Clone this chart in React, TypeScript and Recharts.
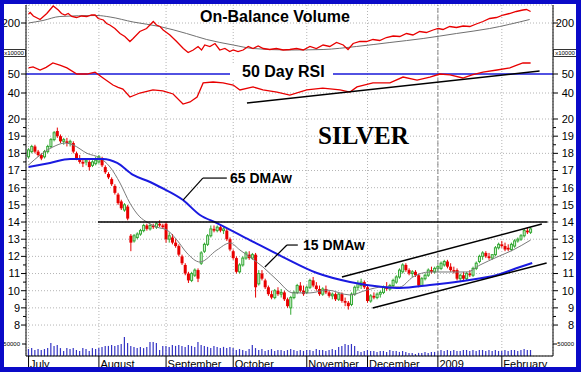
import React from 'react';
import { ComposedChart, XAxis, YAxis, Bar, Line, CartesianGrid, ReferenceLine } from 'recharts';

const FONT = "'Liberation Sans', Arial, sans-serif";
const SERIF = "'Liberation Serif', 'Times New Roman', serif";

// ---------- categories / ticks ----------
const monthTicks = [0, 22, 43, 64, 87, 106, 128, 148];
const monthLabels = ['July', 'August', 'September', 'October', 'November', 'December', '2009', 'February'];
const priceTicks = [8, 9, 10, 11, 12, 13, 14, 15, 16, 17, 18, 19, 20];
const priceMinorTicks = [8.5, 9.5, 10.5, 11.5, 12.5, 13.5, 14.5, 15.5, 16.5, 17.5, 18.5, 19.5];
const rsiTicks = [40, 50];
const obvTicks = [200];
const volTicks = [50000];

// ---------- daily prices (July 2008 - Feb 2009) ----------
const opens = [
  17.8, 18.1, 18.4, 18.1, 17.9, 17.8, 18.1, 18.4, 18.8, 19.3, 19.0, 18.7, 18.7, 18.6, 18.6, 18.0, 17.7, 17.5, 17.5, 17.5, 17.3, 17.4,
  17.5, 17.7, 17.2, 16.8, 16.5, 16.1, 15.6, 15.2, 14.7, 14.9, 13.2, 12.9, 13.1, 13.3, 13.5, 13.8, 13.6, 13.8, 13.7, 13.9, 13.8,
  13.9, 13.0, 13.1, 12.8, 12.6, 12.0, 11.5, 11.0, 10.6, 10.9, 11.2, 11.6, 12.3, 12.7, 13.2, 13.6, 13.5, 13.7, 13.5, 13.5, 13.0,
  12.3, 11.9, 11.1, 11.5, 11.9, 12.1, 11.9, 12.1, 10.4, 11.0, 10.6, 10.2, 9.8, 9.6, 10.0, 9.8, 9.9, 9.5, 9.0, 9.6, 9.9, 10.3, 10.0,
  9.9, 10.2, 10.6, 10.3, 10.1, 9.8, 10.1, 9.9, 9.7, 9.8, 9.5, 9.8, 9.4, 9.3, 9.2, 9.8, 10.2, 10.3, 10.5,
  10.2, 9.4, 9.7, 9.6, 9.8, 9.9, 10.2, 10.1, 10.3, 10.5, 10.8, 11.1, 11.5, 11.2, 11.0, 11.1, 10.9, 10.3, 10.7, 10.9, 11.2, 11.1,
  11.3, 11.3, 11.5, 11.7, 11.4, 11.2, 11.2, 10.7, 10.9, 10.7, 11.0, 10.9, 11.3, 11.7, 12.0, 12.2, 12.0, 11.9, 12.1, 12.5,
  12.7, 12.6, 12.5, 12.4, 12.6, 12.9, 13.0, 13.2, 13.5, 13.4,
];
const highs = [
  18.3, 18.5, 18.5, 18.2, 18.0, 18.2, 18.5, 18.9, 19.3, 19.5, 19.1, 18.9, 18.9, 18.8, 18.7, 18.1, 17.9, 17.7, 17.7, 17.6, 17.6, 17.8,
  17.9, 17.8, 17.3, 16.9, 16.6, 16.2, 15.7, 15.3, 15.1, 15.0, 13.3, 13.3, 13.4, 13.6, 13.9, 13.9, 13.9, 13.9, 14.0, 14.1, 13.9,
  14.0, 13.4, 13.3, 13.0, 12.7, 12.1, 11.6, 11.1, 11.1, 11.3, 11.3, 12.3, 12.8, 13.3, 13.8, 13.8, 13.8, 13.8, 13.7, 13.6, 13.1,
  12.4, 12.0, 11.6, 12.0, 12.3, 12.3, 12.2, 12.2, 11.2, 11.2, 10.7, 10.3, 10.0, 10.1, 10.2, 10.1, 10.0, 9.6, 9.7, 10.0, 10.4, 10.5, 10.3,
  10.3, 10.7, 10.8, 10.5, 10.3, 10.2, 10.3, 10.0, 9.9, 9.9, 9.9, 9.9, 9.6, 9.4, 9.9, 10.3, 10.6, 10.7, 10.6,
  10.3, 9.8, 9.9, 9.9, 10.0, 10.3, 10.5, 10.4, 10.7, 10.9, 11.3, 11.6, 11.6, 11.3, 11.2, 11.2, 11.0, 10.8, 11.0, 11.3, 11.4, 11.4,
  11.5, 11.7, 11.8, 11.8, 11.6, 11.4, 11.3, 11.0, 11.1, 11.1, 11.2, 11.4, 11.7, 12.1, 12.3, 12.3, 12.2, 12.1, 12.6, 12.8,
  12.9, 12.8, 12.7, 12.8, 13.0, 13.1, 13.3, 13.6, 13.7, 13.7,
];
const lows = [
  17.7, 18.0, 18.0, 17.8, 17.6, 17.7, 18.0, 18.3, 18.7, 18.9, 18.6, 18.5, 18.4, 18.4, 18.0, 17.6, 17.4, 17.2, 17.3, 17.0, 17.2, 17.3,
  17.4, 17.2, 16.8, 16.5, 16.1, 15.6, 15.0, 14.7, 14.6, 14.1, 12.3, 12.8, 13.0, 13.2, 13.4, 13.5, 13.5, 13.6, 13.6, 13.7, 13.6,
  12.8, 12.8, 12.7, 12.5, 12.0, 11.5, 10.9, 10.45, 10.5, 10.8, 10.5, 11.5, 12.2, 12.6, 13.1, 13.4, 13.4, 13.4, 13.3, 12.9, 12.3,
  11.8, 11.0, 11.0, 11.4, 11.8, 11.8, 11.8, 9.6, 10.3, 10.6, 10.1, 9.7, 9.5, 9.5, 9.7, 9.6, 9.4, 9.0, 8.6, 9.5, 9.8, 9.9, 9.7,
  9.8, 10.1, 10.2, 10.0, 9.7, 9.7, 9.8, 9.6, 9.5, 9.4, 9.4, 9.3, 9.1, 8.9, 9.1, 9.7, 10.0, 10.1, 10.1,
  9.3, 9.3, 9.5, 9.5, 9.6, 9.8, 10.0, 10.0, 10.2, 10.4, 10.7, 11.0, 11.1, 10.9, 10.8, 10.8, 10.2, 10.3, 10.6, 10.8, 11.0, 11.0,
  11.1, 11.2, 11.4, 11.3, 11.1, 11.0, 10.6, 10.5, 10.6, 10.6, 10.8, 10.8, 11.2, 11.6, 11.8, 11.9, 11.8, 11.8, 12.0, 12.4,
  12.5, 12.3, 12.3, 12.3, 12.5, 12.8, 12.9, 13.1, 13.3, 13.3,
];
const closes = [
  18.2, 18.4, 18.1, 17.9, 17.7, 18.1, 18.4, 18.8, 19.2, 19.0, 18.7, 18.8, 18.6, 18.7, 18.1, 17.7, 17.5, 17.4, 17.6, 17.2, 17.5, 17.6,
  17.8, 17.3, 16.9, 16.6, 16.2, 15.7, 15.1, 14.8, 15.0, 14.2, 12.8, 13.2, 13.3, 13.5, 13.8, 13.6, 13.8, 13.7, 13.9, 13.8, 13.7,
  13.0, 13.2, 12.8, 12.6, 12.1, 11.6, 11.0, 10.6, 11.0, 11.2, 10.7, 12.2, 12.7, 13.2, 13.6, 13.5, 13.7, 13.5, 13.6, 13.0, 12.4,
  11.9, 11.1, 11.5, 11.9, 12.2, 11.9, 12.1, 10.2, 11.0, 10.7, 10.2, 9.8, 9.6, 10.0, 9.8, 9.9, 9.5, 9.1, 9.6, 9.9, 10.3, 10.0, 9.8,
  10.2, 10.6, 10.3, 10.1, 9.8, 10.1, 9.9, 9.7, 9.8, 9.5, 9.8, 9.4, 9.3, 9.1, 9.8, 10.2, 10.4, 10.5, 10.2,
  9.4, 9.7, 9.6, 9.8, 9.9, 10.2, 10.1, 10.3, 10.6, 10.8, 11.2, 11.5, 11.2, 11.0, 11.1, 10.9, 10.3, 10.7, 10.9, 11.2, 11.1, 11.3,
  11.4, 11.6, 11.7, 11.4, 11.2, 11.1, 10.7, 10.9, 10.7, 11.0, 10.9, 11.3, 11.6, 12.0, 12.2, 12.0, 11.9, 12.1, 12.5, 12.7,
  12.6, 12.4, 12.4, 12.7, 12.9, 13.0, 13.2, 13.5, 13.4, 13.6,
];
const volumes = [
  29000, 33000, 25000, 29000, 25000, 29000, 33000, 54000, 42000, 46000, 33000, 21000, 33000, 29000, 33000, 25000, 21000, 33000, 29000, 21000, 33000, 29000,
  33000, 38000, 42000, 42000, 46000, 42000, 46000, 50000, 79000, 54000, 42000, 38000, 33000, 38000, 33000, 38000, 58000, 58000, 54000, 25000, 42000,
  42000, 38000, 46000, 42000, 46000, 42000, 38000, 46000, 42000, 38000, 58000, 46000, 42000, 38000, 33000, 42000, 38000, 33000, 38000, 33000, 38000,
  33000, 25000, 29000, 25000, 21000, 29000, 46000, 33000, 25000, 29000, 21000, 25000, 29000, 21000, 25000, 25000, 21000, 25000, 29000, 25000, 21000, 25000, 21000,
  25000, 25000, 21000, 29000, 25000, 25000, 21000, 25000, 29000, 25000, 38000, 42000, 50000, 46000, 50000, 42000, 21000, 17000, 21000,
  25000, 21000, 21000, 17000, 21000, 21000, 17000, 25000, 21000, 21000, 17000, 21000, 17000, 13000, 13000, 8000, 13000, 13000, 17000, 13000, 17000, 17000,
  21000, 25000, 21000, 25000, 21000, 25000, 21000, 21000, 25000, 25000, 21000, 25000, 21000, 25000, 25000, 21000, 25000, 21000, 25000, 21000,
  21000, 25000, 21000, 25000, 25000, 21000, 25000, 29000, 25000, 25000,
];

// ---------- indicator readings [day, value] ----------
const obvPoints = [
  [0, 218], [0.5, 221], [1.5, 214], [3.6, 207], [5.7, 219], [7.7, 234], [9.3, 226], [10.3, 219], [11.4, 216], [12.4, 219], [13.5, 213],
  [15, 211], [16.6, 214], [18.2, 213], [19.7, 216], [20.8, 216], [21.8, 209], [23.4, 206], [24.4, 199], [25.4, 196], [27, 189],
  [28.6, 179], [30.1, 173], [31.7, 163], [32.7, 169], [34.8, 183], [36.9, 189], [39, 203], [40, 196], [41.1, 193], [42.1, 186],
  [44.2, 176], [46.3, 163], [48.4, 149], [49.9, 141], [51.5, 146], [53, 153], [54.1, 146], [55.1, 156], [56.7, 153], [58.3, 159],
  [59.8, 146], [61.4, 149], [62.9, 143], [64, 146], [65.5, 143], [67.1, 146], [68.7, 153], [70.2, 149], [71.8, 154], [73.4, 149],
  [75.4, 147], [77.5, 149], [79.6, 146], [81.7, 147], [83.8, 149], [85.9, 146], [88, 153], [90, 149], [92.1, 156], [94.2, 153],
  [96.3, 161], [98.4, 156], [99.9, 147], [101.5, 159], [103.6, 163], [105.7, 163], [107.7, 167], [109.8, 165], [111.9, 171],
  [114, 174], [116.1, 173], [118.2, 179], [120.2, 176], [122.3, 183], [124.4, 181], [126.5, 186], [128.1, 189], [129.6, 187],
  [131.7, 193], [133.8, 191], [135.9, 194], [138, 193], [140, 198], [142.1, 203], [144.2, 209], [146.3, 211], [148.4, 216],
  [150.4, 219], [152.5, 223], [154.6, 226], [155.7, 227], [157, 223],
];
const obvAvgPoints = [
  [0, 200], [4.5, 205], [9.8, 213], [21.4, 215], [25.5, 212], [32.7, 202], [41, 193], [49.4, 179], [55.7, 167], [64, 156],
  [70.2, 149], [81.7, 146], [92.1, 147], [102.5, 153], [113, 161], [123.4, 169], [133.8, 179], [144.2, 189], [156.7, 207],
];
const rsiPoints = [
  [0, 53.2], [1.4, 53.7], [3.6, 52.1], [5.5, 53.5], [7.6, 55.8], [10, 54.5], [12, 53.2], [15.1, 50], [18.3, 50], [19.5, 50.5],
  [20.8, 51], [23.3, 47.9], [26.4, 44.2], [28, 43], [29.5, 42.1], [31.7, 37.9], [34.8, 40], [38.9, 41.6], [42, 41.1], [45.2, 39.5],
  [48.3, 34.2], [50.5, 35.3], [52.7, 37.9], [54.6, 45.3], [57.7, 45.8], [60.8, 45.3], [64, 44.2], [66.1, 41.6], [70.2, 43.2],
  [73.3, 41.6], [77.7, 40.5], [81.7, 38.9], [87, 41.6], [92, 42.6], [97.4, 41.6], [100.5, 40.5], [102.7, 43.2], [107.7, 45.3],
  [113, 45.3], [117.1, 48.4], [121.5, 46.8], [125.5, 48.4], [128.6, 50], [131.8, 49.5], [135.8, 47.9], [138.7, 49.5], [142.1, 51],
  [146.5, 52.1], [150.5, 53.2], [152.7, 54.7], [154.6, 55.8], [157, 55.8],
];
const dma15Points = [
  [0, 17.32], [3.6, 17.9], [7.6, 18.37], [11.4, 18.6], [13.9, 18.49], [18.3, 18.0], [22.3, 17.73], [25.5, 17.2], [28.6, 16.27],
  [31.7, 15.1], [34.8, 14.3], [37, 14.0], [40.2, 13.7], [43.3, 13.53], [46.4, 12.95], [49.5, 12.2], [53.6, 11.67], [58.9, 12.37],
  [63, 12.78], [66.1, 12.37], [69.2, 11.96], [73.3, 11.38], [77.7, 10.62], [82.7, 9.87], [88, 9.87], [93.3, 10.04], [100.5, 9.75],
  [105.8, 10.04], [110.8, 10.22], [116.1, 10.22], [120.2, 10.8], [125.5, 11.09], [131.8, 11.09], [137.1, 11.09], [141.2, 11.5],
  [146.5, 11.96], [151.5, 12.37], [157, 12.95],
];
const dma65Points = [
  [0, 17.2], [6.7, 17.44], [13, 17.67], [23.3, 17.67], [27.7, 17.44], [32.7, 16.74], [38, 16.33], [41.1, 16.04], [48.3, 15.28],
  [53.6, 14.41], [58.9, 13.94], [69.2, 12.95], [79.6, 11.96], [90.2, 11.03], [100.5, 10.51], [110.8, 10.22], [116.1, 10.16],
  [125.5, 10.33], [135.8, 10.57], [146.5, 10.91], [153.7, 11.38], [157.5, 11.61],
];

// ---------- drawn trend lines [day, value] ----------
const resistance14 = [[21.7, 14], [162.3, 14]];
const upperChannel = [[98.0, 10.8], [160.5, 13.88]];
const lowerChannel = [[107.6, 8.99], [162.0, 11.61]];
const rsiTrend = [[68.3, 34.7], [159.8, 51.6]];
const pointer65 = [[48.3, 15.28], [54.5, 16.56], [62.0, 16.56]];
const pointer15 = [[73.9, 11.38], [80.8, 12.66], [84.2, 12.66]];

const rows = opens.map((o, i) => ({
  d: i,
  open: o,
  high: highs[i],
  low: lows[i],
  close: closes[i],
  vol: volumes[i],
}));
const toPts = (arr: number[][]) => arr.map(([d, v]) => ({ d, v }));
const seg = (a: number[], b: number[]) => [{ x: a[0], y: a[1] }, { x: b[0], y: b[1] }];

const X_DOMAIN: [number, number] = [-0.8, 164];
const PLOT_L = 26;
const PLOT_R = 553;
const PLOT_T = 5;
const PLOT_B = 356;

const Candle = (props: any) => {
  const { x, y, width, height, payload } = props;
  if (!payload || x == null || y == null) return null;
  const { open, close, high, low } = payload;
  const top0 = Math.min(y, y + height);
  const h = Math.abs(height);
  const cx = x + width / 2;
  const per = h / (high - low || 1);
  const yOf = (v: number) => top0 + (high - v) * per;
  const up = close >= open;
  const color = up ? '#33a833' : '#e80000';
  const bTop = yOf(Math.max(open, close));
  const bBot = yOf(Math.min(open, close));
  return (
    <g>
      <line x1={cx} x2={cx} y1={top0} y2={top0 + h} stroke={color} strokeWidth={1} />
      {up ? (
        <rect x={cx - 1} y={bTop} width={2} height={Math.max(bBot - bTop, 1)} fill="#dff5df" stroke={color} strokeWidth={1} />
      ) : (
        <rect x={cx - 1.5} y={bTop} width={3} height={Math.max(bBot - bTop, 1)} fill={color} />
      )}
    </g>
  );
};

const VolBar = (props: any) => {
  const { x, y, width, height } = props;
  if (x == null || y == null) return null;
  const cx = x + width / 2;
  return <line x1={cx} x2={cx} y1={y} y2={y + height} stroke="#3434c4" strokeWidth={1.2} />;
};

const MonthTick = (props: any) => {
  const { x, y, payload } = props;
  const idx = monthTicks.indexOf(payload.value);
  return (
    <g>
      <line x1={x} x2={x} y1={y} y2={y + 12} stroke="#000" strokeWidth={1} />
      <text x={x + 1.5} y={y + 11.5} fontSize={11} fontFamily={FONT} fill="#000">
        {monthLabels[idx]}
      </text>
    </g>
  );
};

// side: 'L' or 'R'; len: tick mark length; fs: label font size (0 = no label)
const makeTick = (side: 'L' | 'R', len: number, fs: number) => (props: any) => {
  const { y, payload } = props;
  if (y == null) return null;
  const ax = side === 'L' ? PLOT_L : PLOT_R;
  const x2 = side === 'L' ? ax - len : ax + len;
  return (
    <g>
      <line x1={ax} x2={x2} y1={y} y2={y} stroke="#000" strokeWidth={1} />
      {fs > 0 ? (
        <text
          x={side === 'L' ? PLOT_L - 6 : PLOT_R + 21}
          y={y}
          dy="0.355em"
          textAnchor="end"
          fontSize={fs}
          fontFamily={FONT}
          fill="#000"
        >
          {payload.value}
        </text>
      ) : null}
    </g>
  );
};

const PRICE_DOMAIN: [number, number] = [6.197, 26.64];
const RSI_DOMAIN: [number, number] = [-98.42, 86.32];
const OBV_DOMAIN: [number, number] = [-466, 236];
const VOL_DOMAIN: [number, number] = [0, 1462500];

const axisCommon = { mirror: true, allowDataOverflow: true, interval: 0 as const, tickLine: false, axisLine: false };

export default function App() {
  return (
    <div style={{ position: 'absolute', left: 0, top: 0, width: 581, height: 372, background: '#fff' }}>
      <ComposedChart width={581} height={372} data={rows} margin={{ top: PLOT_T, right: 581 - PLOT_R, bottom: 0, left: PLOT_L }}>
        <XAxis
          xAxisId="x"
          type="number"
          dataKey="d"
          domain={X_DOMAIN}
          allowDataOverflow
          ticks={monthTicks}
          interval={0}
          height={372 - PLOT_B}
          tickSize={0}
          tickMargin={0}
          tickLine={false}
          axisLine={{ stroke: '#000' }}
          tick={<MonthTick />}
        />
        <XAxis xAxisId="xv" type="number" dataKey="d" domain={X_DOMAIN} allowDataOverflow hide />

        <YAxis yAxisId="price" domain={PRICE_DOMAIN} ticks={priceTicks} tick={makeTick('L', 5, 11)} {...axisCommon} />
        <YAxis yAxisId="priceMinor" domain={PRICE_DOMAIN} ticks={priceMinorTicks} tick={makeTick('L', 3, 0)} {...axisCommon} />
        <YAxis yAxisId="rsi" domain={RSI_DOMAIN} ticks={rsiTicks} tick={makeTick('L', 5, 11)} {...axisCommon} />
        <YAxis yAxisId="obv" domain={OBV_DOMAIN} ticks={obvTicks} tick={makeTick('L', 5, 11)} {...axisCommon} />
        <YAxis yAxisId="vol" domain={VOL_DOMAIN} ticks={volTicks} tick={makeTick('L', 4, 6)} {...axisCommon} />

        <YAxis yAxisId="priceR" orientation="right" domain={PRICE_DOMAIN} ticks={priceTicks} tick={makeTick('R', 5, 11)} {...axisCommon} />
        <YAxis yAxisId="priceMinorR" orientation="right" domain={PRICE_DOMAIN} ticks={priceMinorTicks} tick={makeTick('R', 3, 0)} {...axisCommon} />
        <YAxis yAxisId="rsiR" orientation="right" domain={RSI_DOMAIN} ticks={rsiTicks} tick={makeTick('R', 5, 11)} {...axisCommon} />
        <YAxis yAxisId="obvR" orientation="right" domain={OBV_DOMAIN} ticks={obvTicks} tick={makeTick('R', 5, 11)} {...axisCommon} />
        <YAxis yAxisId="volR" orientation="right" domain={VOL_DOMAIN} ticks={volTicks} tick={makeTick('R', 4, 6)} {...axisCommon} />

        <CartesianGrid xAxisId="x" yAxisId="price" stroke="#b4b4b4" strokeDasharray="1 2" />
        <ReferenceLine xAxisId="x" yAxisId="rsi" y={40} stroke="#b4b4b4" strokeDasharray="1 2" />
        <ReferenceLine xAxisId="x" yAxisId="obv" y={200} stroke="#b4b4b4" strokeDasharray="1 2" />
        <ReferenceLine xAxisId="x" yAxisId="price" x={128} stroke="#8a8a8a" strokeDasharray="5 2" />
        <ReferenceLine xAxisId="x" yAxisId="rsi" y={50} stroke="#1818d8" strokeWidth={1.5} />

        <Bar xAxisId="xv" yAxisId="vol" dataKey="vol" barSize={1} shape={<VolBar />} isAnimationActive={false} />
        <Bar xAxisId="x" yAxisId="price" dataKey={(r: any) => [r.low, r.high]} barSize={3} shape={<Candle />} isAnimationActive={false} />

        <Line xAxisId="x" yAxisId="obv" data={toPts(obvAvgPoints)} dataKey="v" type="monotone" stroke="#707070" strokeWidth={1} dot={false} isAnimationActive={false} />
        <Line xAxisId="x" yAxisId="obv" data={toPts(obvPoints)} dataKey="v" type="linear" stroke="#e80000" strokeWidth={1.3} dot={false} isAnimationActive={false} />
        <Line xAxisId="x" yAxisId="rsi" data={toPts(rsiPoints)} dataKey="v" type="linear" stroke="#e80000" strokeWidth={1.3} dot={false} isAnimationActive={false} />
        <Line xAxisId="x" yAxisId="price" data={toPts(dma15Points)} dataKey="v" type="monotone" stroke="#7a7a7a" strokeWidth={1} dot={false} isAnimationActive={false} />
        <Line xAxisId="x" yAxisId="price" data={toPts(dma65Points)} dataKey="v" type="monotone" stroke="#1a1ae0" strokeWidth={2} dot={false} isAnimationActive={false} />

        <ReferenceLine xAxisId="x" yAxisId="price" segment={seg(resistance14[0], resistance14[1])} stroke="#000" strokeWidth={1.5} />
        <ReferenceLine xAxisId="x" yAxisId="price" segment={seg(upperChannel[0], upperChannel[1])} stroke="#000" strokeWidth={1.5} />
        <ReferenceLine xAxisId="x" yAxisId="price" segment={seg(lowerChannel[0], lowerChannel[1])} stroke="#000" strokeWidth={1.5} />
        <ReferenceLine xAxisId="x" yAxisId="rsi" segment={seg(rsiTrend[0], rsiTrend[1])} stroke="#000" strokeWidth={1.5} />
        <ReferenceLine xAxisId="x" yAxisId="price" segment={seg(pointer65[0], pointer65[1])} stroke="#000" strokeWidth={1.2} />
        <ReferenceLine xAxisId="x" yAxisId="price" segment={seg(pointer65[1], pointer65[2])} stroke="#000" strokeWidth={1.2} />
        <ReferenceLine xAxisId="x" yAxisId="price" segment={seg(pointer15[0], pointer15[1])} stroke="#000" strokeWidth={1.2} />
        <ReferenceLine xAxisId="x" yAxisId="price" segment={seg(pointer15[1], pointer15[2])} stroke="#000" strokeWidth={1.2} />
      </ComposedChart>

      <svg width={581} height={372} style={{ position: 'absolute', left: 0, top: 0, pointerEvents: 'none' }}>
        <line x1={PLOT_L} x2={PLOT_L} y1={PLOT_T} y2={PLOT_B} stroke="#000" strokeWidth={1} />
        <line x1={PLOT_R} x2={PLOT_R} y1={PLOT_T} y2={PLOT_B} stroke="#000" strokeWidth={1} />

        <rect x={230} y={64} width={103} height={16} fill="#fff" />
        <text x={242} y={77} fontSize={16} fontWeight="bold" fontFamily={FONT} fill="#000">50 Day RSI</text>
        <text x={200} y={22} fontSize={16} fontWeight="bold" fontFamily={FONT} fill="#000">On-Balance Volume</text>
        <text x={318} y={144} fontSize={25} fontWeight="bold" fontFamily={SERIF} fill="#000">SILVER</text>
        <text x={230} y={183} fontSize={14} fontWeight="bold" fontFamily={FONT} fill="#000">65 DMAw</text>
        <text x={303} y={250} fontSize={14} fontWeight="bold" fontFamily={FONT} fill="#000">15 DMAw</text>

        <rect x={2.5} y={49.5} width={23} height={7} fill="#fff" stroke="#333" strokeWidth={1} />
        <text x={14} y={55.3} fontSize={6} textAnchor="middle" fontFamily={FONT} fill="#000">x10000</text>
        <rect x={553.5} y={49.5} width={23} height={7} fill="#fff" stroke="#333" strokeWidth={1} />
        <text x={565} y={55.3} fontSize={6} textAnchor="middle" fontFamily={FONT} fill="#000">x10000</text>

        <rect x={0} y={0} width={581} height={4} fill="#0a0ac8" />
        <rect x={0} y={367} width={581} height={5} fill="#0a0ac8" />
        <rect x={0} y={0} width={4} height={372} fill="#0a0ac8" />
        <rect x={576} y={0} width={5} height={372} fill="#0a0ac8" />
      </svg>
    </div>
  );
}
